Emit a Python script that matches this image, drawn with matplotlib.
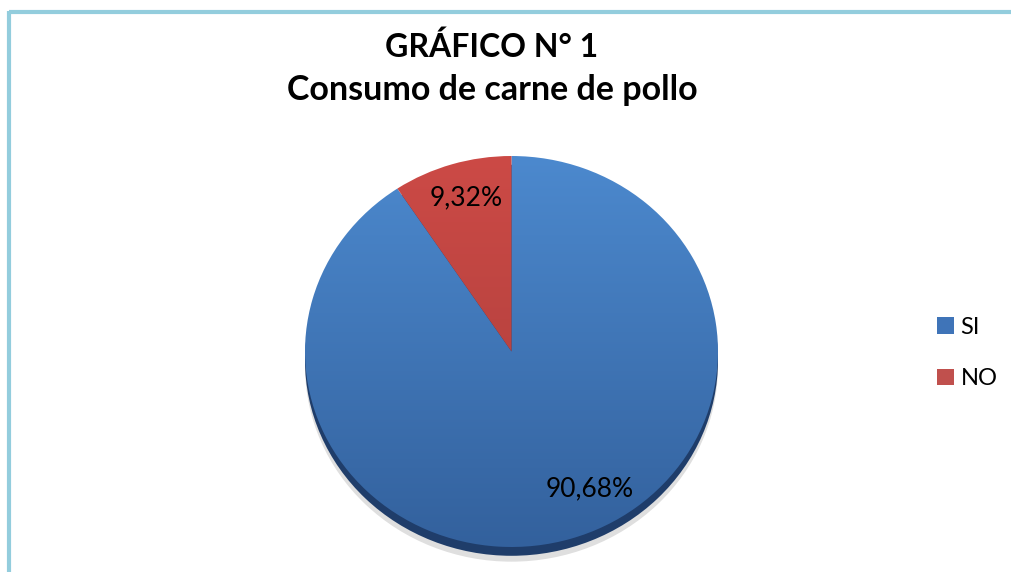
import numpy as np
import matplotlib
matplotlib.use("Agg")
import matplotlib.pyplot as plt
from matplotlib.lines import Line2D
from matplotlib.patches import Ellipse, Patch
from matplotlib.colors import LinearSegmentedColormap

# Data
categories = ["SI", "NO"]
values = [90.68, 9.32]
title_lines = ["GRÁFICO N° 1", "Consumo de carne de pollo"]

# Styling
grad_colors = [("#4C89CE", "#33619D"), ("#CC4A46", "#A83D3A")]
legend_colors = ["#3F74B8", "#C0504D"]
label_pos = [(0.38, -0.70), (-0.22, 0.785)]
frame_color = "#93CDDD"
font = "Lato"

W, H = 1011, 572
fig = plt.figure(figsize=(W / 100, H / 100), dpi=100)
fig.patch.set_facecolor("white")

# Light-blue frame (top and left edges)
fig.add_artist(Line2D([8.5 / W, 1.0], [1 - 12 / H, 1 - 12 / H], color=frame_color,
                      lw=3.0, transform=fig.transFigure, solid_capstyle="butt"))
fig.add_artist(Line2D([8.5 / W, 8.5 / W], [1 - 10.5 / H, 0.0], color=frame_color,
                      lw=3.0, transform=fig.transFigure, solid_capstyle="butt"))

# Title
fig.text(492 / W, 1 - 47 / H, title_lines[0], ha="center", va="center",
         fontsize=23, fontweight="bold", family=font)
fig.text(492 / W, 1 - 90 / H, title_lines[1], ha="center", va="center",
         fontsize=24.5, fontweight="bold", family=font)

# Pie axes (slightly flattened ellipse)
left, right, top, bottom = 305, 718, 156, 547
ax = fig.add_axes([left / W, 1 - bottom / H, (right - left) / W, (bottom - top) / H])
wedges, _ = ax.pie(values, startangle=90, counterclock=False, radius=1,
                   wedgeprops=dict(linewidth=0))
ax.set_aspect("auto")
ax.set_xlim(-1, 1)
ax.set_ylim(-1, 1)
ax.axis("off")

# soft shadow and dark rim under the pie
ax.add_patch(Ellipse((0, -0.075), 2.0, 2.0, facecolor="#b8b8b8", alpha=0.45,
                     zorder=0, clip_on=False, lw=0))
ax.add_patch(Ellipse((0, -0.045), 2.0, 2.0, facecolor="#1F3D6A",
                     zorder=0.5, clip_on=False, lw=0))

# Vertical gradient fill on each wedge
grad = np.linspace(0, 1, 256).reshape(-1, 1)
for w, (c_top, c_bot) in zip(wedges, grad_colors):
    w.set_facecolor("none")
    w.set_zorder(1)
    cmap = LinearSegmentedColormap.from_list("g", [c_top, c_bot])
    im = ax.imshow(grad, cmap=cmap, extent=(-1, 1, -1, 1), origin="upper",
                   aspect="auto", zorder=1, interpolation="bilinear")
    im.set_clip_path(w)

ax.set_xlim(-1, 1)
ax.set_ylim(-1, 1)

# Percentage labels
for v, (x, y) in zip(values, label_pos):
    ax.text(x, y, f"{v:.2f}%".replace(".", ","), ha="center", va="center",
            fontsize=19, family=font, color="black", zorder=5)

# Legend
handles = [Patch(facecolor=c, edgecolor="none") for c in legend_colors]
fig.legend(handles, categories, loc="center left",
           bbox_to_anchor=(937 / W, 1 - 353 / H), frameon=False,
           prop=dict(family=font, size=17), handlelength=0.7, handleheight=0.7,
           handletextpad=0.3, labelspacing=1.3, borderpad=0, borderaxespad=0)

fig.savefig("out.png", dpi=100)
